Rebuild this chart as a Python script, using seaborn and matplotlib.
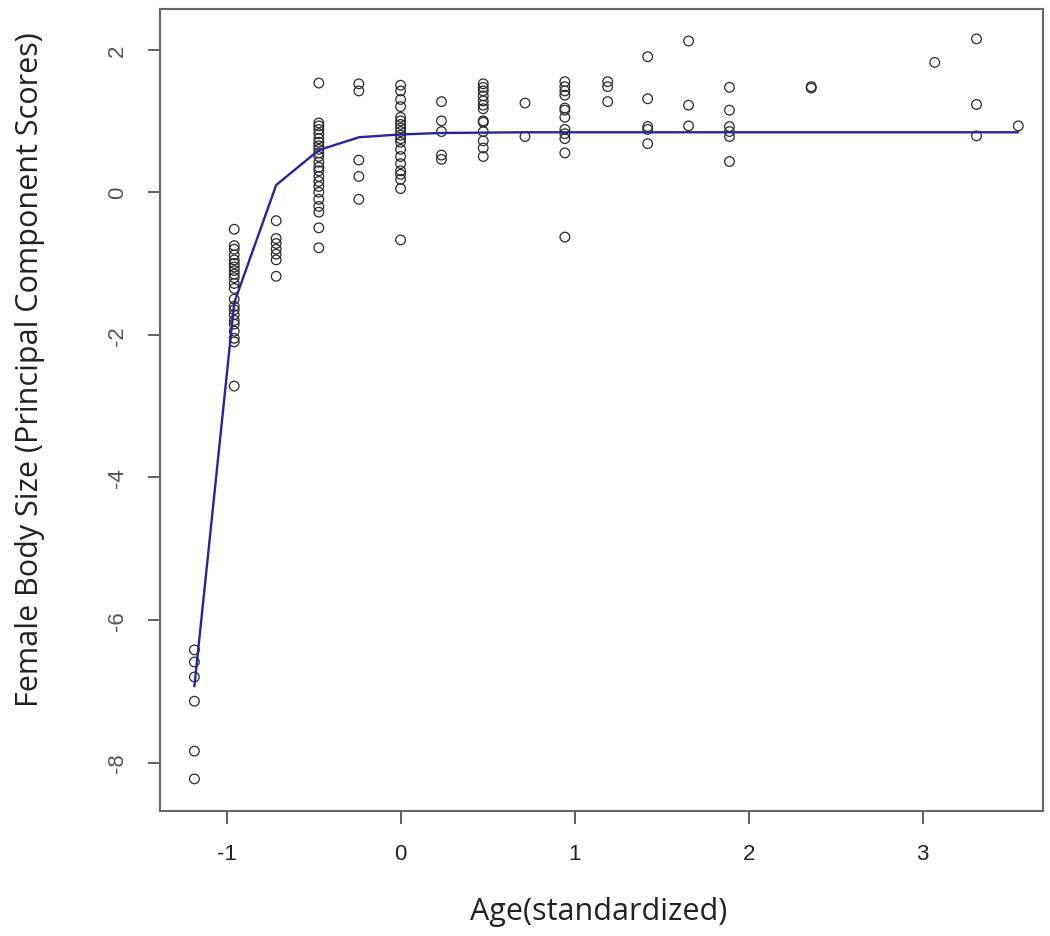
import matplotlib
matplotlib.use("Agg")
import matplotlib.pyplot as plt
import seaborn as sns
import pandas as pd

# Age groups (standardized) and the body-size scores observed at each
age_levels = [-1.185, -0.956, -0.715, -0.47, -0.24, 0.0, 0.235, 0.475, 0.715,
              0.944, 1.19, 1.42, 1.655, 1.89, 2.36, 3.07, 3.31, 3.55]

scores = [
    [-6.42, -6.59, -6.80, -7.14, -7.84, -8.23],
    [-0.52, -0.75, -0.80, -0.88, -0.95, -1.00, -1.05, -1.10, -1.15, -1.20, -1.28,
     -1.35, -1.50, -1.60, -1.65, -1.72, -1.80, -1.85, -1.95, -2.05, -2.10, -2.72],
    [-0.40, -0.65, -0.72, -0.80, -0.87, -0.95, -1.18],
    [1.53, 0.97, 0.93, 0.88, 0.82, 0.75, 0.70, 0.65, 0.60, 0.55, 0.50, 0.42, 0.35,
     0.30, 0.22, 0.15, 0.08, 0.00, -0.10, -0.20, -0.28, -0.50, -0.78],
    [1.52, 1.42, 0.45, 0.22, -0.10],
    [1.50, 1.42, 1.30, 1.20, 1.05, 1.00, 0.95, 0.90, 0.85, 0.80, 0.75, 0.70, 0.60,
     0.50, 0.40, 0.30, 0.25, 0.18, 0.05, -0.67],
    [1.27, 1.00, 0.85, 0.52, 0.46],
    [1.52, 1.47, 1.42, 1.35, 1.28, 1.22, 1.17, 1.00, 0.98, 0.85, 0.72, 0.62, 0.50],
    [1.25, 0.78],
    [1.55, 1.48, 1.42, 1.36, 1.18, 1.15, 1.05, 0.88, 0.82, 0.75, 0.55, -0.63],
    [1.55, 1.48, 1.27],
    [1.90, 1.31, 0.92, 0.88, 0.68],
    [2.12, 1.22, 0.93],
    [1.47, 1.15, 0.92, 0.85, 0.78, 0.43],
    [1.48, 1.46],
    [1.82],
    [2.15, 1.23, 0.79],
    [0.93],
]

# Fitted growth curve evaluated at each age group
fit_y = [-6.93, -1.55, 0.10, 0.59, 0.77, 0.81, 0.83, 0.835, 0.84, 0.84, 0.84,
         0.84, 0.84, 0.84, 0.84, 0.84, 0.84, 0.84]

x_ticks = [-1, 0, 1, 2, 3]
y_ticks = [-8, -6, -4, -2, 0, 2]
x_label = "Age(standardized)"
y_label = "Female Body Size (Principal Component Scores)"

rows = [(a, s) for a, vals in zip(age_levels, scores) for s in vals]
pts = pd.DataFrame(rows, columns=["age", "size"])
fit = pd.DataFrame({"age": age_levels, "size": fit_y})

sns.set_style("ticks")
plt.rcParams['font.family'] = ['Open Sans', 'DejaVu Sans']

fig = plt.figure(figsize=(10.5, 9.37), dpi=100)
ax = fig.add_axes([0.152, 0.1334, 0.841, 0.856])

sns.scatterplot(data=pts, x="age", y="size", ax=ax, marker="o", s=48,
                facecolor="none", edgecolor="#2a2a2a", linewidth=0.9, zorder=2)
sns.lineplot(data=fit, x="age", y="size", ax=ax, color="#25259c",
             linewidth=1.7, zorder=3, estimator=None, sort=False)

ax.set_xlim(-1.385, 3.69)
ax.set_ylim(-8.68, 2.57)
ax.set_xticks(x_ticks)
ax.set_xticklabels([str(t) for t in x_ticks], family=['Liberation Sans'],
                   fontsize=16, color="#222222")
ax.set_yticks(y_ticks)
ax.set_yticklabels([str(t) for t in y_ticks], rotation=90, va="center",
                   family=['Liberation Sans'], fontsize=16, color="#555555")
ax.tick_params(axis="both", direction="out", length=9, width=1.2,
               color="#444444", pad=14)
for sp in ax.spines.values():
    sp.set_visible(True)
    sp.set_color("#666666")
    sp.set_linewidth(1.5)

ax.set_xlabel(x_label, fontsize=22, color="#222222", va="center", ha="center")
ax.xaxis.set_label_coords(0.497, -0.125)
ax.set_ylabel(y_label, fontsize=22, color="#222222", va="center", ha="center")
ax.yaxis.set_label_coords(-0.147, 0.552)

fig.savefig("out.png", dpi=100, facecolor="white")
